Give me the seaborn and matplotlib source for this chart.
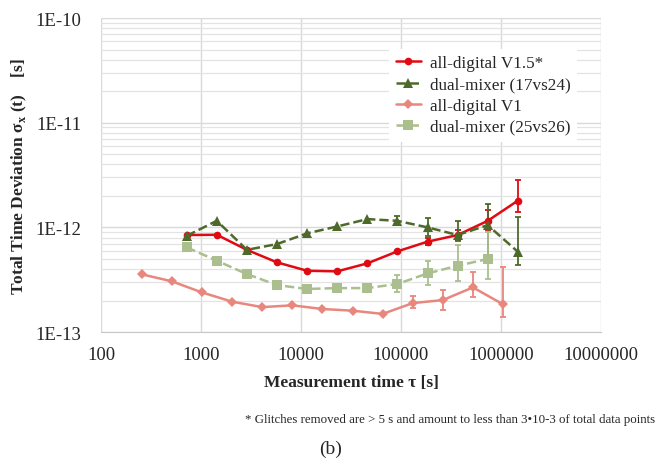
import numpy as np
import pandas as pd
import matplotlib
matplotlib.use("Agg")
import matplotlib.pyplot as plt
import matplotlib.ticker as mticker
import seaborn as sns

# tau values (s)
tau_v15 = [720, 1440, 2880, 5760, 11520, 23040, 46080, 92160, 184320, 368640, 737280, 1474560]
tau_v1 = [256, 512, 1024, 2048, 4096, 8192, 16384, 32768, 65536, 131072, 262144, 524288, 1048576]

# all-digital V1.5*
v15 = [8.45e-13, 8.5e-13, 6.1e-13, 4.63e-13, 3.85e-13, 3.8e-13, 4.53e-13, 5.9e-13, 7.3e-13, 8.45e-13, 1.155e-12, 1.8e-12]
v15_hi = [np.nan] * 8 + [7.9e-13, 9.5e-13, 1.45e-12, 2.83e-12]
v15_lo = [np.nan] * 8 + [6.8e-13, 7.5e-13, 9.5e-13, 1.41e-12]

# dual-mixer (17vs24)
dm17 = [8.3e-13, 1.155e-12, 6.1e-13, 6.93e-13, 8.77e-13, 1.02e-12, 1.2e-12, 1.155e-12, 1.0e-12, 8.45e-13, 1.05e-12, 5.85e-13]
dm17_hi = [np.nan] * 7 + [1.29e-12, 1.22e-12, 1.16e-12, 1.67e-12, 1.26e-12]
dm17_lo = [np.nan] * 7 + [1.1e-12, 8.3e-13, 7.45e-13, 5.4e-13, 4.4e-13]

# all-digital V1
v1 = [3.56e-13, 3.05e-13, 2.39e-13, 1.95e-13, 1.73e-13, 1.8e-13, 1.66e-13, 1.6e-13, 1.49e-13, 1.89e-13, 2.02e-13, 2.67e-13, 1.84e-13]
v1_hi = [np.nan] * 9 + [2.19e-13, 2.5e-13, 3.77e-13, 4.15e-13]
v1_lo = [np.nan] * 9 + [1.68e-13, 1.63e-13, 2.15e-13, 1.38e-13]

# dual-mixer (25vs26)
tau_dm25 = tau_v15[:11]
dm25 = [6.45e-13, 4.8e-13, 3.58e-13, 2.81e-13, 2.58e-13, 2.63e-13, 2.63e-13, 2.88e-13, 3.63e-13, 4.3e-13, 4.99e-13]
dm25_hi = [np.nan] * 5 + [2.75e-13, 2.9e-13, 3.5e-13, 4.73e-13, 6.83e-13, 8.95e-13]
dm25_lo = [np.nan] * 5 + [2.5e-13, 2.4e-13, 2.39e-13, 2.83e-13, 3.09e-13, 3.2e-13]

x_ticks = [100, 1000, 10000, 100000, 1000000, 10000000]
y_ticks = [1e-13, 1e-12, 1e-11, 1e-10]
y_labels = ["1E-13", "1E-12", "1E-11", "1E-10"]

sns.set_style("white")
plt.rcParams["font.family"] = ["Liberation Serif", "DejaVu Serif"]
plt.rcParams["mathtext.fontset"] = "custom"
plt.rcParams["mathtext.rm"] = "Liberation Serif"
plt.rcParams["mathtext.bf"] = "Liberation Serif:bold"

fig = plt.figure(figsize=(6.57, 4.6), dpi=100)
ax = fig.add_axes([0.1537, 0.276, 0.761, 0.6826])

series = [
    ("all-digital V1.5*", tau_v15, v15, v15_lo, v15_hi, "#e00a12", "o", "-", 5.5, 1.8),
    ("dual-mixer (17vs24)", tau_v15, dm17, dm17_lo, dm17_hi, "#4d6a2b", "^", "--", 7.5, 1.8),
    ("all-digital V1", tau_v1, v1, v1_lo, v1_hi, "#e8877d", "D", "-", 5.5, 1.8),
    ("dual-mixer (25vs26)", tau_dm25, dm25, dm25_lo, dm25_hi, "#aabf8d", "s", "--", 6.5, 1.8),
]

for name, t, y, lo, hi, col, mk, ls, ms, lw in series:
    df = pd.DataFrame({"tau": t, "val": y, "lo": lo, "hi": hi})
    sns.lineplot(data=df, x="tau", y="val", ax=ax, color=col, marker=mk,
                 linestyle=ls, markersize=ms, markeredgewidth=0, linewidth=lw,
                 label=name, zorder=3)
    e = df.dropna()
    ax.errorbar(e["tau"], e["val"], yerr=[e["val"] - e["lo"], e["hi"] - e["val"]],
                fmt="none", ecolor=col, elinewidth=1.3, capsize=2.5, capthick=1.3, zorder=2)

ax.set_xscale("log")
ax.set_yscale("log")
ax.set_xlim(100, 1e7)
ax.set_ylim(1e-13, 1e-10)
ax.xaxis.set_major_locator(mticker.FixedLocator(x_ticks))
ax.set_xticklabels([str(v) for v in x_ticks])
ax.xaxis.set_minor_locator(mticker.NullLocator())
ax.yaxis.set_major_locator(mticker.FixedLocator(y_ticks))
ax.set_yticklabels(y_labels)
ax.yaxis.set_minor_locator(mticker.LogLocator(base=10, subs=np.arange(2, 10)))
ax.yaxis.set_minor_formatter(mticker.NullFormatter())

ax.grid(True, which="major", color="#d9d9d9", linewidth=1.0)
ax.grid(True, which="minor", axis="y", color="#e3e3e3", linewidth=0.9)
for s in ["top", "right", "left"]:
    ax.spines[s].set_visible(False)
ax.spines["bottom"].set_color("#c8c8c8")
ax.tick_params(axis="y", which="major", length=4, color="#c8c8c8", labelsize=13.5, pad=10)
ax.tick_params(axis="y", which="minor", length=0)
ax.tick_params(axis="x", length=0, labelsize=13.5, pad=10)

ax.set_xlabel("Measurement time τ [s]", fontsize=12.5, fontweight="bold", labelpad=8)
ax.set_ylabel("Total Time Deviation σ$_\\mathbf{x}$ (t)    [s]", fontsize=12.5,
              fontweight="bold", labelpad=5)

leg = ax.legend(loc="upper right", bbox_to_anchor=(0.97, 0.93), fontsize=12.3,
                frameon=True, framealpha=1, edgecolor="white", fancybox=False,
                handlelength=1.5, labelspacing=0.3, borderpad=0.4, handletextpad=0.5)
leg.get_frame().set_linewidth(0)

fig.text(0.373, 0.087, "* Glitches removed are > 5 s and amount to less than 3•10-3 of total data points",
         fontsize=9.25, ha="left", va="center")
fig.text(0.503, 0.024, "(b)", fontsize=14, ha="center", va="center")

fig.savefig("out.png", dpi=100)
